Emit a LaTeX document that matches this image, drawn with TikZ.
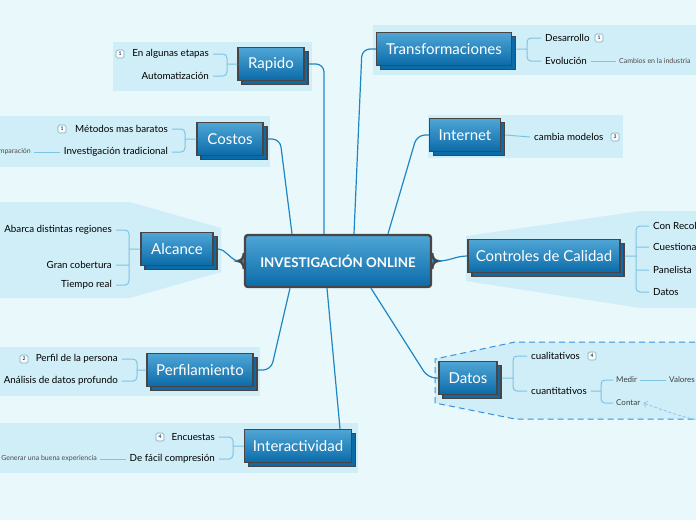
\documentclass[tikz,border=0pt]{standalone}
\usepackage{fontspec}
\setmainfont{Lato}
\usepackage{tikz}
\usetikzlibrary{calc}
\usetikzlibrary{shadows,arrows.meta}

\definecolor{bgcol}{HTML}{E9F9FB}
\definecolor{panecol}{HTML}{CFEEF8}
\definecolor{boxtop}{HTML}{4FA6D6}
\definecolor{boxbot}{HTML}{0B6BA8}
\definecolor{boxline}{HTML}{4A4444}
\definecolor{trunkcol}{HTML}{1F86C4}
\definecolor{twigcol}{HTML}{7FC3E4}
\definecolor{dashcol}{HTML}{3A93DA}

\begin{document}
\begin{tikzpicture}[x=1pt, y=-1pt,
    root/.style = {draw=boxline, line width=2.4pt, rounded corners=3pt, top color=boxtop, bottom color=boxbot, text=white, font=\bfseries\fontsize{13.3}{15}\selectfont, minimum width=186pt, minimum height=52pt},
    topic/.style = {draw=boxline, line width=1.5pt, top color=boxtop, bottom color=boxbot, text=white, font=\fontsize{15}{17}\selectfont, minimum height=33pt, inner sep=0pt, copy shadow={shadow xshift=4pt, shadow yshift=-4pt, fill=boxbot, draw=boxline, line width=1.5pt}},
    leaf/.style = {font=\fontsize{9.8}{11}\selectfont, inner sep=4pt},
    note/.style = {font=\fontsize{8}{9}\selectfont, text=black!75, inner sep=3pt},
    tiny/.style = {font=\fontsize{7}{8}\selectfont, text=black!70, inner sep=3pt},
    tag/.style = {draw=twigcol!70!gray, fill=white!85!panecol, rounded corners=1.5pt, line width=0.7pt, minimum size=8pt, inner sep=0pt, font=\fontsize{5}{5}\selectfont},
    pane/.style = {fill=panecol},
    trunk/.style = {draw=trunkcol, line width=1.2pt, rounded corners=8pt},
    twig/.style = {draw=twigcol, line width=1pt, rounded corners=4pt},
    link/.style = {draw=dashcol!55, line width=0.8pt, dash pattern=on 3pt off 2pt, -{Straight Barb[length=3pt]}}]

    \useasboundingbox (0,0) rectangle (696,520);
    \clip (0,0) rectangle (696,520);
    \fill[bgcol] (0,0) rectangle (696,520);

    \fill[pane] (113,42) rectangle (312,91);
    \fill[pane] (0,116) rectangle (270,167);
    \fill[pane] (0,202) -- (130,202) -- (221,228) -- (221,272) -- (130,298) -- (0,298) -- cycle;
    \fill[pane] (0,347) rectangle (260,396);
    \fill[pane] (0,423) rectangle (358,473);
    \fill[pane] (373,25) rectangle (696,75);
    \fill[pane] (428,115) rectangle (623,158);
    \fill[pane] (466,236) -- (640,211) -- (700,211) -- (700,308) -- (640,308) -- (466,281) -- cycle;
    \filldraw[pane, draw=dashcol, dash pattern=on 6pt off 4pt, line width=1pt] (705,342) -- (515,342) -- (435,359) -- (435,403) -- (515,419) -- (705,419);

    \node[root] (root) at (338,261) {INVESTIGACIÓN ONLINE};
    \filldraw[fill=boxtop!45!boxbot, draw=boxline, line width=2.4pt] ([yshift=8pt]root.west) to[out=-90,in=0] ([xshift=-6pt]root.west) to[out=0,in=90] ([yshift=-8pt]root.west);
    \filldraw[fill=boxtop!45!boxbot, draw=boxline, line width=2.4pt] ([yshift=8pt]root.east) to[out=-90,in=180] ([xshift=6pt]root.east) to[out=180,in=90] ([yshift=-8pt]root.east);

    \node[topic, minimum width=66pt] (rapido) at (271,64) {Rapido};
    \node[topic, minimum width=66pt] (costos) at (230,139) {Costos};
    \node[topic, minimum width=72pt] (alcance) at (177,249) {Alcance};
    \node[topic, minimum width=106pt] (perfil) at (200,370) {Perfilamiento};
    \node[topic, minimum width=107pt] (inter) at (298,446) {Interactividad};
    \node[topic, minimum width=135pt] (transf) at (444,49) {Transformaciones};
    \node[topic, minimum width=71pt] (internet) at (465,135) {Internet};
    \node[topic, minimum width=152pt] (controles) at (544,256) {Controles de Calidad};
    \node[topic, minimum width=58pt] (datos) at (468,378) {Datos};

    \node[leaf, anchor=east] (enalg) at (213,54) {En algunas etapas};
    \node[leaf, anchor=east] (autom) at (213,76) {Automatización};
    \node[tag] (tagA) at (120,54) {1};

    \node[leaf, anchor=east] (metodos) at (172,129) {Métodos mas baratos};
    \node[leaf, anchor=east] (invtrad) at (172,152) {Investigación tradicional};
    \node[tiny, anchor=east] (compar) at (34,152) {Comparación};
    \node[tag] (tagB) at (62,129) {1};

    \node[leaf, anchor=east] (abarca) at (116,230) {Abarca distintas regiones};
    \node[leaf, anchor=east] (gran) at (116,265) {Gran cobertura};
    \node[leaf, anchor=east] (tiempo) at (116,285) {Tiempo real};

    \node[leaf, anchor=east] (perfper) at (122,359) {Perfil de la persona};
    \node[leaf, anchor=east] (analisis) at (122,381) {Análisis de datos profundo};
    \node[tag] (tagC) at (24,359) {2};

    \node[leaf, anchor=east] (encuestas) at (219,437) {Encuestas};
    \node[leaf, anchor=east] (facil) at (219,459) {De fácil compresión};
    \node[tiny, anchor=east] (experiencia) at (100,459) {Generar una buena experiencia};
    \node[tag] (tagD) at (160,437) {4};

    \node[leaf, anchor=west] (desarrollo) at (541,38) {Desarrollo};
    \node[leaf, anchor=west] (evolucion) at (541,61) {Evolución};
    \node[tiny, anchor=west] (cambios) at (616,61) {Cambios en la industria};
    \node[tag] (tagE) at (599,38) {1};

    \node[leaf, anchor=west] (cambia) at (530,137) {cambia modelos};
    \node[tag] (tagF) at (615,137) {3};

    \node[leaf, anchor=west] (conrec) at (649,226) {Con Recolección};
    \node[leaf, anchor=west] (cuest) at (649,247) {Cuestionarios};
    \node[leaf, anchor=west] (panelista) at (649,270) {Panelista};
    \node[leaf, anchor=west] (datosq) at (649,292) {Datos};

    \node[leaf, anchor=west] (cualit) at (527,356) {cualitativos};
    \node[leaf, anchor=west] (cuantit) at (527,391) {cuantitativos};
    \node[tag] (tagG) at (592,356) {4};
    \node[note, anchor=west] (medir) at (613,380) {Medir};
    \node[note, anchor=west] (contar) at (613,403) {Contar};
    \node[note, anchor=west] (valores) at (666,380) {Valores numéricos};
    \coordinate (far) at (720,424);

    \draw[trunk] ([xshift=4pt]rapido.east) -| ([xshift=-14pt]root.north);
    \draw[trunk] ([xshift=4pt]costos.east) -- (280,139) -- ([xshift=-46pt]root.north);
    \draw[trunk] (transf.west) -- (362,49) -- ([xshift=16pt]root.north);
    \draw[trunk] (internet.west) -- (417,135) -- ([xshift=50pt]root.north);
    \draw[trunk] ([xshift=4pt]alcance.east) to[out=-5,in=165] ([xshift=-6pt]root.west);
    \draw[trunk] ([xshift=6pt]root.east) to[out=0,in=180] (controles.west);
    \draw[trunk] ([xshift=4pt]perfil.east) -- (271,370) -- ([xshift=-48pt]root.south);
    \draw[trunk] ([xshift=42pt]inter.north) -- ([xshift=-11pt]root.south);
    \draw[trunk] ([xshift=33pt]root.south) -- (428,378) -- (datos.west);

    \draw[twig] (enalg.east) -| (227,64) |- (autom.east) (227,64) -- (rapido.west);
    \draw[twig] (metodos.east) -| (185,139) |- (invtrad.east) (185,139) -- (costos.west);
    \draw[twig] (invtrad.west) -- (compar.east);
    \draw[twig] (abarca.east) -| (129,249) |- (tiempo.east) (gran.east) -- (129,265) (129,249) -- (alcance.west);
    \draw[twig] (perfper.east) -| (137,370) |- (analisis.east) (137,370) -- (perfil.west);
    \draw[twig] (encuestas.east) -| (233,446) |- (facil.east) (233,446) -- (inter.west);
    \draw[twig] (facil.west) -- (experiencia.east);
    \draw[twig] (desarrollo.west) -| (527,49) |- (evolucion.west) (527,49) -- ([xshift=4pt]transf.east);
    \draw[twig] (evolucion.east) -- (cambios.west);
    \draw[twig] ([xshift=4pt]internet.east) -- (cambia.west);
    \draw[twig] (conrec.west) -| (636,256) |- (datosq.west) (cuest.west) -- (636,247) (panelista.west) -- (636,270) (636,256) -- ([xshift=4pt]controles.east);
    \draw[twig] (cualit.west) -| (513,378) |- (cuantit.west) (513,378) -- ([xshift=4pt]datos.east);
    \draw[twig] (medir.west) -| (601,391) |- (contar.west) (601,391) -- (cuantit.east);
    \draw[twig] (medir.east) -- (valores.west);
    \draw[link] (far) to[out=172,in=-20] (contar.east);
\end{tikzpicture}
\end{document}
